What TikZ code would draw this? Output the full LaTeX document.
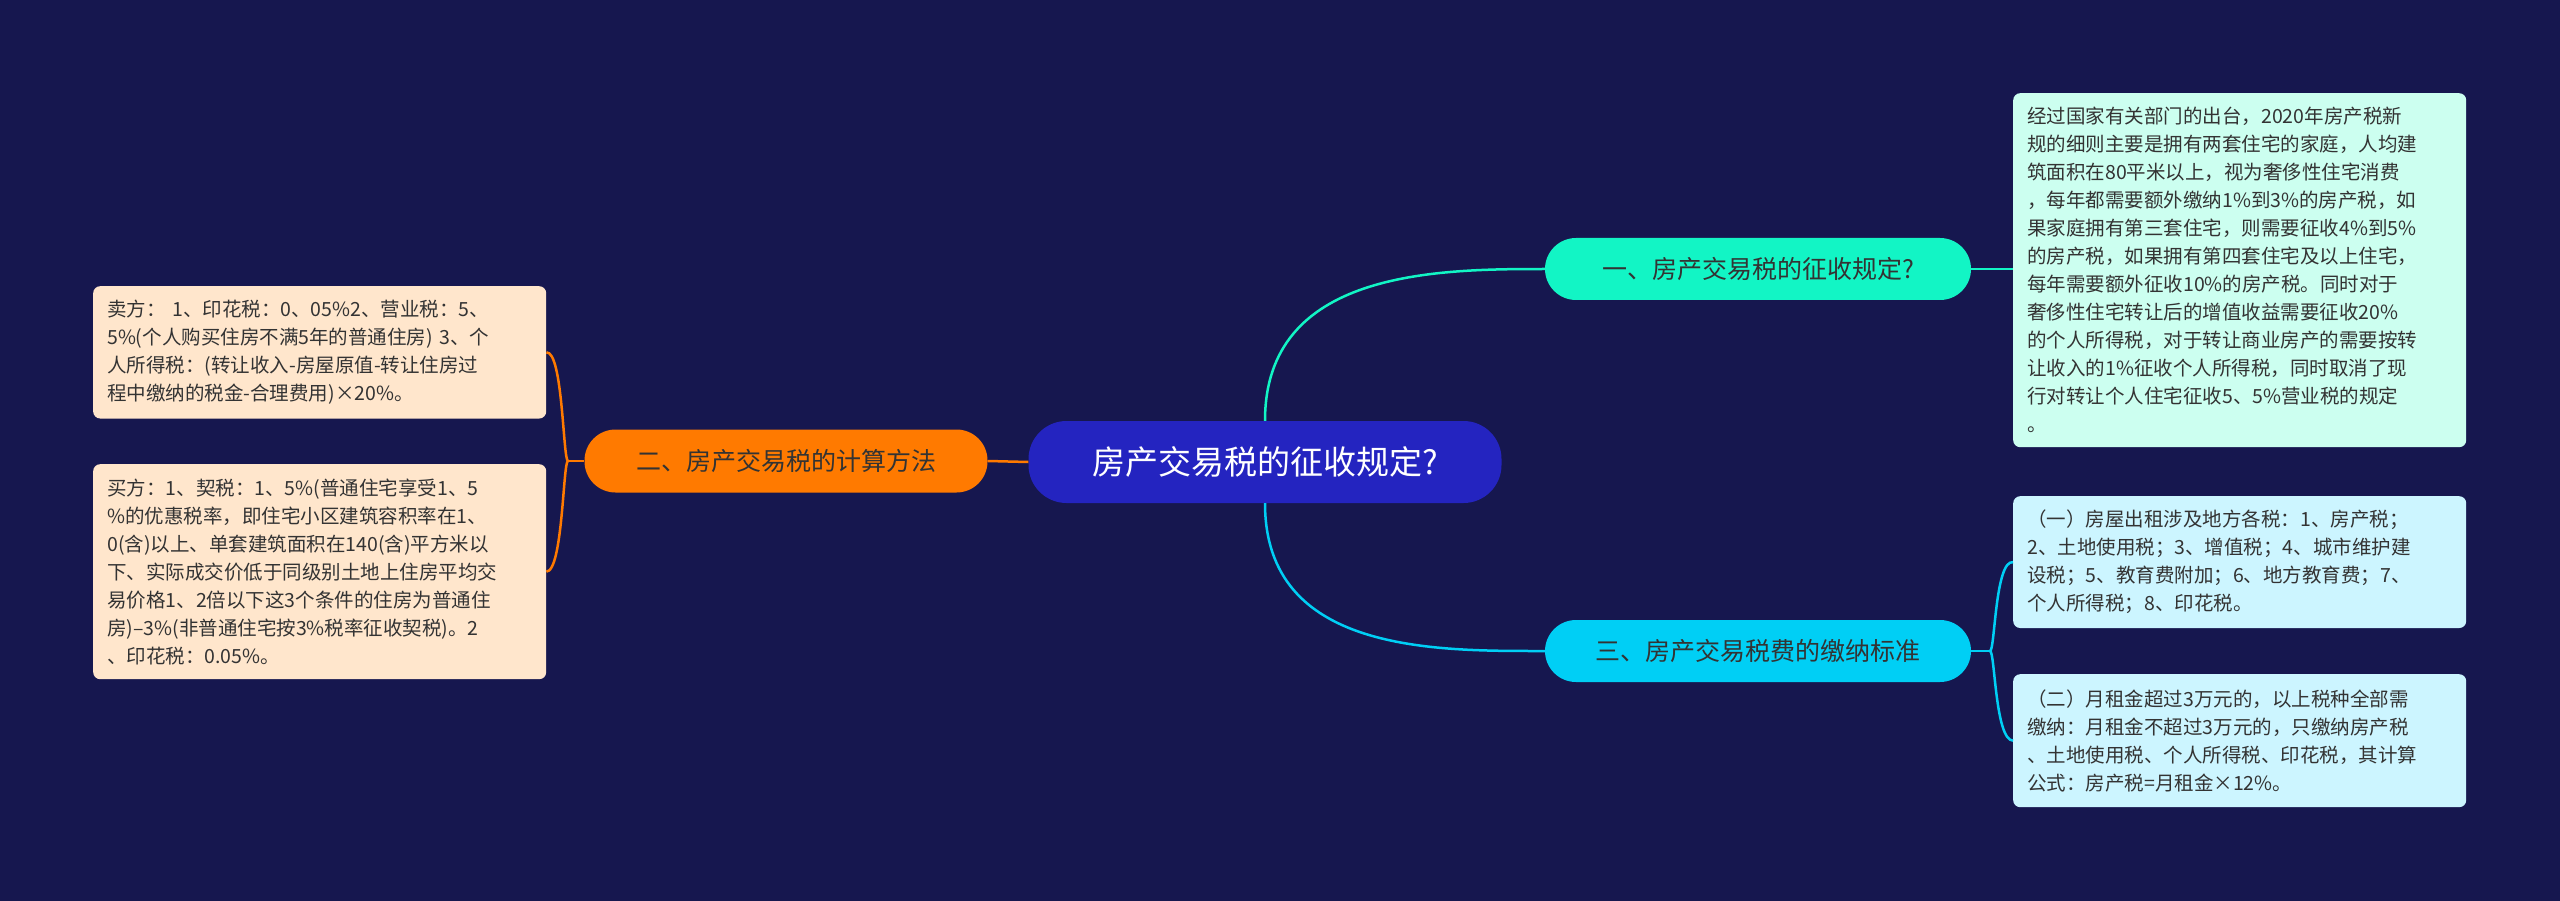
\documentclass[tikz,border=0pt]{standalone}
\usepackage{fontspec}
\setmainfont{Noto Sans CJK SC}
\begin{document}
\begin{tikzpicture}[x=1pt,y=-1pt,
  leaf/.style={rounded corners=7pt,minimum width=453pt,text width=425pt,align=left,inner sep=14pt,font=\fontsize{19.5}{28}\selectfont,text=black!80,anchor=north west},
  branch/.style={rounded corners=31pt,minimum height=62pt,font=\fontsize{25}{30}\selectfont,text=black!80},
  con/.style={line width=2.5pt}]
\useasboundingbox[fill={rgb,255:red,22;green,23;blue,79}] (0,0) rectangle (2560,901);
\definecolor{cen}{RGB}{36,36,192}
\definecolor{tl}{RGB}{18,245,197}
\definecolor{cy}{RGB}{0,207,245}
\definecolor{og}{RGB}{255,122,0}
\node[branch,fill=cen,text=white,minimum width=473pt,minimum height=82pt,rounded corners=38pt,font=\fontsize{33}{38}\selectfont] (c) at (1265,462) {房产交易税的征收规定?};
\node[branch,fill=tl,minimum width=426pt] (b1) at (1758,269) {一、房产交易税的征收规定?};
\node[branch,fill=cy,minimum width=426pt] (b3) at (1758,651) {三、房产交易税费的缴纳标准};
\node[branch,fill=og,minimum width=403pt,minimum height=63pt] (b2) at (786,461) {二、房产交易税的计算方法};
\node[leaf,fill={rgb,255:red,204;green,255;blue,240},minimum height=354pt,text height=] (r1) at (2013,93) {经过国家有关部门的出台，2020年房产税新\\规的细则主要是拥有两套住宅的家庭，人均建\\筑面积在80平米以上，视为奢侈性住宅消费\\，每年都需要额外缴纳1\%到3\%的房产税，如\\果家庭拥有第三套住宅，则需要征收4\%到5\%\\的房产税，如果拥有第四套住宅及以上住宅，\\每年需要额外征收10\%的房产税。同时对于\\奢侈性住宅转让后的增值收益需要征收20\%\\的个人所得税，对于转让商业房产的需要按转\\让收入的1\%征收个人所得税，同时取消了现\\行对转让个人住宅征收5、5\%营业税的规定\\。};
\node[leaf,fill={rgb,255:red,204;green,245;blue,255},minimum height=129pt] (r2) at (2013,496) {（一）房屋出租涉及地方各税：1、房产税；\\2、土地使用税；3、增值税；4、城市维护建\\设税；5、教育费附加；6、地方教育费；7、\\个人所得税；8、印花税。};
\node[leaf,fill={rgb,255:red,204;green,245;blue,255},minimum height=133pt] (r3) at (2013,674) {（二）月租金超过3万元的，以上税种全部需\\缴纳：月租金不超过3万元的，只缴纳房产税\\、土地使用税、个人所得税、印花税，其计算\\公式：房产税=月租金×12\%。};
\node[leaf,fill={rgb,255:red,255;green,230;blue,204},minimum height=130pt] (l1) at (93,286) {卖方： 1、印花税：0、05\%2、营业税：5、\\5\%(个人购买住房不满5年的普通住房) 3、个\\人所得税：(转让收入-房屋原值-转让住房过\\程中缴纳的税金-合理费用)×20\%。};
\node[leaf,fill={rgb,255:red,255;green,230;blue,204},minimum height=215pt] (l2) at (93,464) {买方：1、契税：1、5\%(普通住宅享受1、5\\\%的优惠税率，即住宅小区建筑容积率在1、\\0(含)以上、单套建筑面积在140(含)平方米以\\下、实际成交价低于同级别土地上住房平均交\\易价格1、2倍以下这3个条件的住房为普通住\\房)--3\%(非普通住宅按3\%税率征收契税)。2\\、印花税：0.05\%。};
% connectors
\draw[con,draw=tl] (c.north) .. controls +(0,-150) and +(-110,0) .. (b1.west);
\draw[con,draw=cy] (c.south) .. controls +(0,150) and +(-110,0) .. (b3.west);
\draw[con,draw=og] (c.west) -- (b2.east);
\draw[con,draw=tl] (b1.east) -- (b1.east -| r1.west);
\coordinate (rj) at (1990,651);
\draw[con,draw=cy] (b3.east) -- (rj);
\draw[con,draw=cy] (rj) .. controls (1995,651) and (1995,560) .. (r2.west);
\draw[con,draw=cy] (rj) .. controls (1995,651) and (1995,740) .. (r3.west);
\coordinate (lj) at (568,461);
\draw[con,draw=og] (b2.west) -- (lj);
\draw[con,draw=og] (lj) .. controls (563,461) and (563,351) .. (l1.east);
\draw[con,draw=og] (lj) .. controls (563,461) and (563,571) .. (l2.east);
\end{tikzpicture}
\end{document}
